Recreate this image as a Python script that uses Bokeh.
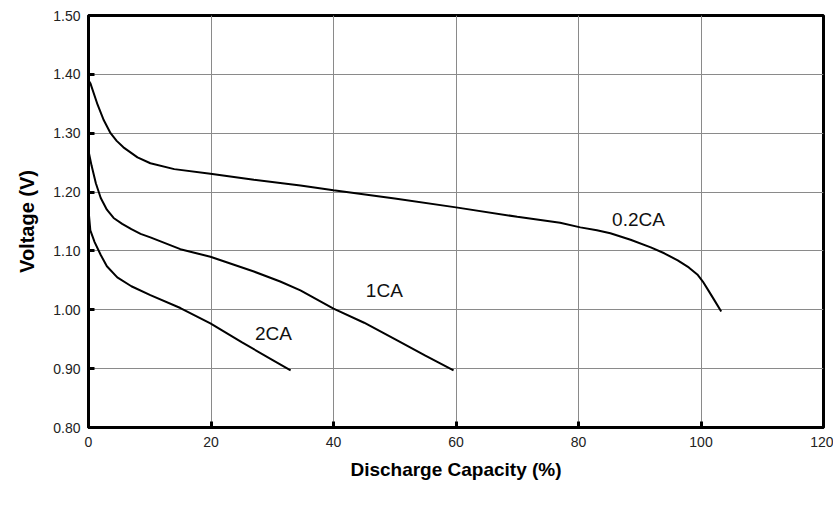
from bokeh.plotting import figure
from bokeh.models import FixedTicker, ColumnDataSource, Range1d, CustomJSTickFormatter
from bokeh.core.properties import value
from bokeh.embed import file_html
from bokeh.resources import INLINE

# Data
cap_02 = [0, 0.3, 1.5, 2.5, 3.6, 4.6, 5.7, 8, 10.1, 14, 19.9, 27, 34.6, 40, 50, 60, 70, 77, 80.3, 83, 85.2, 88.5, 91.8, 94, 96.2, 98, 99.4, 100.3, 101.2, 102.2, 103.3]
volt_02 = [1.39, 1.385, 1.348, 1.322, 1.30, 1.287, 1.276, 1.259, 1.249, 1.239, 1.231, 1.221, 1.211, 1.203, 1.189, 1.174, 1.158, 1.148, 1.140, 1.135, 1.130, 1.119, 1.106, 1.096, 1.084, 1.072, 1.060, 1.048, 1.033, 1.016, 0.997]

cap_1 = [0, 0.5, 1.2, 2.0, 3.0, 4.1, 5.5, 7.0, 8.5, 10.1, 15, 19.9, 27, 31.3, 34.6, 40, 45, 50.4, 55, 59.6]
volt_1 = [1.27, 1.245, 1.215, 1.190, 1.170, 1.156, 1.146, 1.137, 1.129, 1.123, 1.103, 1.090, 1.065, 1.048, 1.033, 1.002, 0.978, 0.948, 0.922, 0.897]

cap_2 = [0, 0.3, 1.0, 2.0, 3.0, 4.7, 7.0, 10.1, 15, 19.9, 25, 30, 33]
volt_2 = [1.17, 1.135, 1.115, 1.093, 1.074, 1.055, 1.040, 1.025, 1.003, 0.977, 0.945, 0.915, 0.897]

label_text = ["0.2CA", "1CA", "2CA"]
label_x = [89.8, 48.3, 30.2]
label_y = [1.153, 1.033, 0.960]

x_ticks = [0, 20, 40, 60, 80, 100, 120]
y_ticks = [0.8, 0.9, 1.0, 1.1, 1.2, 1.3, 1.4, 1.5]

p = figure(width=833, height=501, output_backend="svg", toolbar_location=None,
           x_range=Range1d(0, 120), y_range=Range1d(0.8, 1.5),
           min_border_left=88, min_border_right=10, min_border_top=15, min_border_bottom=74)

p.outline_line_color = "black"
p.outline_line_width = 3
p.background_fill_color = "white"
p.border_fill_color = "white"

for ax in (p.xaxis[0], p.yaxis[0]):
    ax.axis_line_width = 3
    ax.axis_line_color = "black"
    ax.major_tick_in = 6
    ax.major_tick_out = 0
    ax.major_tick_line_width = 3
    ax.minor_tick_line_color = None
    ax.major_label_text_font = "Liberation Sans"
    ax.major_label_text_font_size = "14px"
    ax.major_label_text_color = "#222222"
    ax.axis_label_text_font = "Liberation Sans"
    ax.axis_label_text_font_style = "bold"
    ax.axis_label_text_color = "black"

p.xaxis.axis_label_text_font_size = "19px"
p.yaxis.axis_label_text_font_size = "20px"
p.xaxis.ticker = FixedTicker(ticks=x_ticks)
p.yaxis.ticker = FixedTicker(ticks=y_ticks)
p.yaxis.formatter = CustomJSTickFormatter(code="return tick.toFixed(2);")
p.xaxis.axis_label = "Discharge Capacity (%)"
p.yaxis.axis_label = "Voltage (V)"
p.xaxis.major_label_standoff = 9
p.yaxis.major_label_standoff = 8
p.xaxis.axis_label_standoff = 9
p.yaxis.axis_label_standoff = 12

p.xgrid.ticker = FixedTicker(ticks=x_ticks)
p.ygrid.ticker = FixedTicker(ticks=y_ticks)
p.grid.grid_line_color = "#8a8a8a"
p.grid.grid_line_width = 1

p.line(cap_02, volt_02, line_color="black", line_width=2)
p.line(cap_1, volt_1, line_color="black", line_width=2)
p.line(cap_2, volt_2, line_color="black", line_width=2)

src = ColumnDataSource(dict(x=label_x, y=label_y, t=label_text))
p.text(x="x", y="y", text="t", source=src, text_font=value("Liberation Sans"),
       text_font_size="19px", text_align="center", text_baseline="middle", text_color="#111111")

open("out.html", "w").write(file_html(p, INLINE))
